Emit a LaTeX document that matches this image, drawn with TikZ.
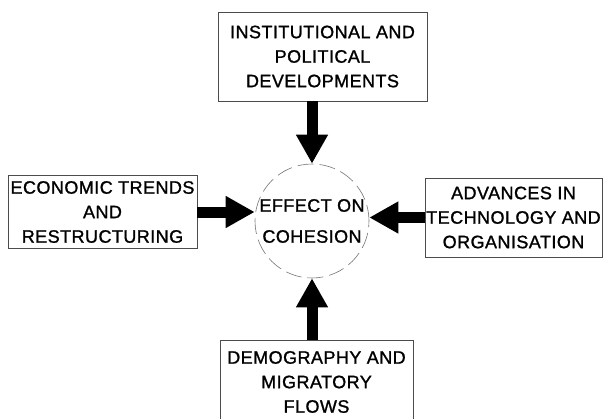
\documentclass[tikz,border=0pt]{standalone}
\usepackage{fontspec}
\setmainfont[LetterSpace=2.5,FakeBold=1.2]{Liberation Sans}
\usetikzlibrary{arrows.meta}
\begin{document}
\begin{tikzpicture}[x=1pt,y=-1pt,
  factor/.style={draw=black!70, line width=0.7pt, align=center, inner sep=0pt,
    font=\fontsize{18}{24.5}\selectfont},
  hub/.style={circle, draw=black!55, line width=0.6pt, dash pattern=on 16pt off 6pt,
    minimum size=114pt, inner sep=0pt, align=center,
    font=\fontsize{18}{31}\selectfont},
  push/.style={line width=11pt, draw=black,
    -{Triangle[width=30pt,length=29pt]}}
]
\useasboundingbox (0,0) rectangle (605,418);

% central effect
\node[hub] (circ) at (312,221) {EFFECT ON\\COHESION};

% the four driving factors
\node[factor, minimum width=209pt, minimum height=89pt] (top) at (322.5,56.5)
  {INSTITUTIONAL AND\\POLITICAL\\DEVELOPMENTS};
\node[factor, minimum width=189pt, minimum height=73pt] (left) at (102.5,212)
  {ECONOMIC TRENDS\\AND\\RESTRUCTURING};
\node[factor, minimum width=177pt, minimum height=79pt] (right) at (513.5,217.5)
  {ADVANCES IN\\TECHNOLOGY AND\\ORGANISATION};
\node[factor, minimum width=193pt, minimum height=84pt] (bottom) at (316.5,382)
  {DEMOGRAPHY AND\\MIGRATORY\\FLOWS};

% arrows into the centre
\draw[push] (circ.north |- top.south) -- (circ.north);
\draw[push] (left.east) -- (left.east -| circ.west);
\draw[push] (right.west) -- (right.west -| circ.east);
\draw[push] (circ.south |- bottom.north) -- (circ.south);
\end{tikzpicture}
\end{document}
